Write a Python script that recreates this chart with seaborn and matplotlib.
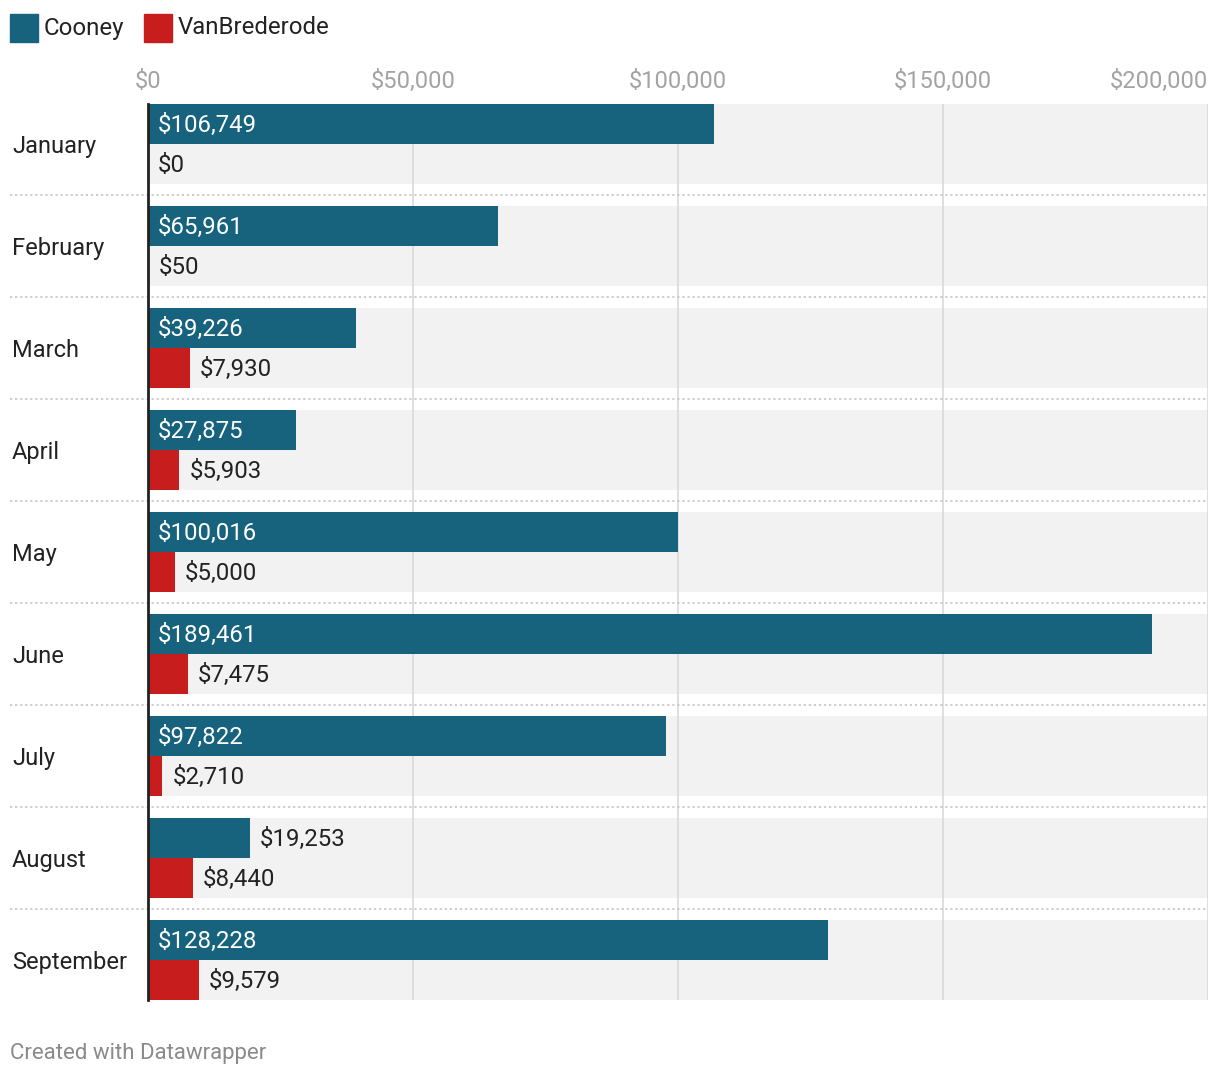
import numpy as np
import pandas as pd
import matplotlib.pyplot as plt
from matplotlib.patches import Rectangle
import seaborn as sns

# data
months = ['January', 'February', 'March', 'April', 'May', 'June', 'July', 'August', 'September']
cooney = [106749, 65961, 39226, 27875, 100016, 189461, 97822, 19253, 128228]
vanbrederode = [0, 50, 7930, 5903, 5000, 7475, 2710, 8440, 9579]
series = ['Cooney', 'VanBrederode']
colors = ['#17627c', '#c71e1d']
xticks = [0, 50000, 100000, 150000, 200000]

df = pd.DataFrame({
    'month': months * 2,
    'value': cooney + vanbrederode,
    'who': [series[0]] * len(months) + [series[1]] * len(months),
})

sns.set_theme(style='white')
plt.rcParams['font.family'] = ['Roboto', 'DejaVu Sans']

W, H = 1220, 1078
fig = plt.figure(figsize=(W / 100, H / 100), dpi=100)
ax = fig.add_axes([148 / W, 1 - 1000 / H, 1060 / W, 896 / H])

group_w = 80 / 102
n = len(months)

# grey row bands behind the bars
for i in range(n):
    ax.axhspan(i - group_w / 2, i + group_w / 2, color='#f2f2f2', zorder=0, lw=0)

sns.barplot(data=df, y='month', x='value', hue='who', order=months, hue_order=series,
            palette=colors, width=group_w, orient='h', ax=ax, legend=False,
            saturation=1, zorder=3, linewidth=0)

ax.set_xlim(0, 200000)
ax.set_ylim(n - 1 + group_w / 2, -group_w / 2)

# vertical gridlines
for xv in xticks[1:]:
    ax.axvline(xv, color='#d9d9d9', lw=1.2, zorder=1)

# dotted row separators running into the label area
for i in range(n - 1):
    ax.axhline(i + 0.5, xmin=(10 - 148) / 1060, xmax=1, color='#c8c8c8', lw=1.3,
               ls=(0, (1.2, 1.6)), clip_on=False, zorder=1)

for s in ['top', 'right', 'bottom']:
    ax.spines[s].set_visible(False)
ax.spines['left'].set_color('#222222')
ax.spines['left'].set_linewidth(2)
ax.spines['left'].set_zorder(5)

ax.set_xlabel('')
ax.set_ylabel('')
ax.xaxis.tick_top()
ax.set_xticks(xticks)
ax.set_xticklabels(['${:,}'.format(v) for v in xticks])
ax.tick_params(axis='x', length=0, pad=8, labelsize=17, labelcolor='#a3a3a3')
ax.get_xticklabels()[-1].set_ha('right')

ax.tick_params(axis='y', length=0, pad=98, labelsize=17, labelcolor='#222222')
for lab in ax.get_yticklabels():
    lab.set_ha('left')

# value labels
px = 200000 / 1060
dy = 1.5 / 102
for k, (cont, vals) in enumerate(zip(ax.containers, [cooney, vanbrederode])):
    for bar, v in zip(cont, vals):
        yc = bar.get_y() + bar.get_height() / 2 + dy
        txt = '${:,}'.format(v)
        est_w = len(txt) * 12.5 + 20
        if v / px > est_w:
            ax.text(10 * px, yc, txt, color='white', fontsize=17.3, va='center', ha='left', zorder=6)
        else:
            ax.text(v + 10 * px, yc, txt, color='#222222', fontsize=17.3, va='center', ha='left', zorder=6)

# legend
lx = [10, 144]
for x0, name, c in zip(lx, series, colors):
    fig.patches.append(Rectangle((x0 / W, 1 - 42 / H), 28 / W, 28 / H, transform=fig.transFigure,
                                 color=c, figure=fig))
    fig.text((x0 + 34) / W, 1 - 28 / H, name, fontsize=17.3, color='#222222', va='center', ha='left')

fig.text(10 / W, 1 - 1054 / H, 'Created with Datawrapper', fontsize=16, color='#8a8a8a',
         va='center', ha='left')

fig.savefig('out.png', dpi=100)
